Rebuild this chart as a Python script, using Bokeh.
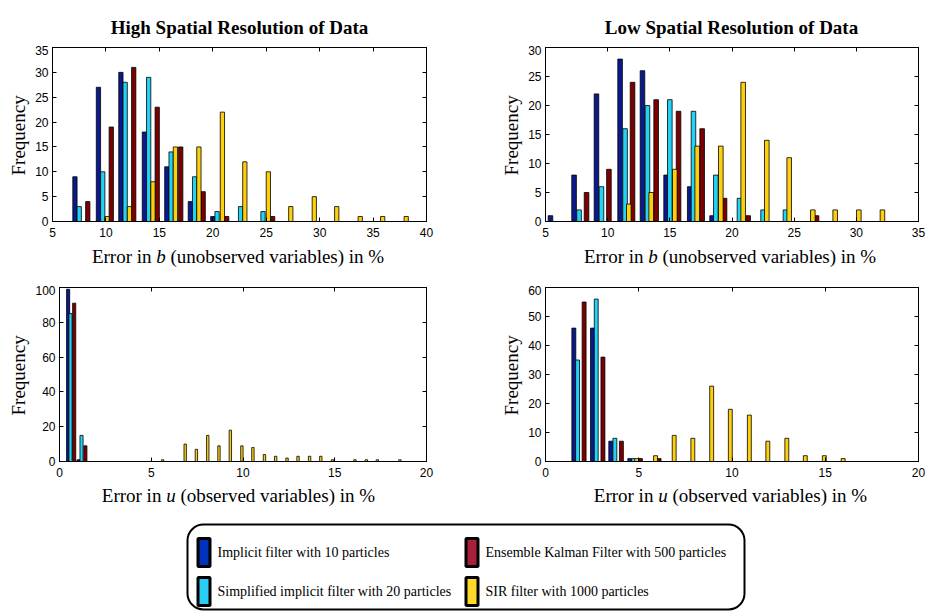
import math
from bokeh.plotting import figure
from bokeh.layouts import column, row
from bokeh.models import Range1d, FixedTicker, LinearAxis, BoxAnnotation
from bokeh.core.properties import value
from bokeh.embed import file_html
from bokeh.resources import INLINE

# ---------------- data ----------------
series_names = [
    "Implicit filter with 10 particles",
    "Simplified implicit filter with 20 particles",
    "Ensemble Kalman Filter with 500 particles",
    "SIR filter with 1000 particles",
]
panel_titles = ["High Spatial Resolution of Data", "Low Spatial Resolution of Data"]
y_label = "Frequency"
x_label_b = ("Error in", "b", "(unobserved variables) in %")
x_label_u = ("Error in", "u", "(observed variables) in %")

# High resolution, error in b
hb_implicit_x = [7.1, 9.3, 11.4, 13.6, 15.7, 17.9, 20.0]
hb_implicit_y = [9, 27, 30, 18, 11, 4, 1]
hb_simplified_x = [7.5, 9.7, 11.8, 14.0, 16.1, 18.3, 20.4, 22.6, 24.7]
hb_simplified_y = [3, 10, 28, 29, 14, 9, 2, 3, 2]
hb_enkf_x = [8.3, 10.5, 12.6, 14.8, 17.0, 19.1, 21.3, 25.6]
hb_enkf_y = [4, 19, 31, 23, 15, 6, 1, 1]
hb_sir_x = [10.1, 12.2, 14.4, 16.5, 18.7, 20.9, 23.0, 25.2, 27.3, 29.5, 31.6, 33.8, 35.9, 38.1]
hb_sir_y = [1, 3, 8, 15, 15, 22, 12, 10, 3, 5, 3, 1, 1, 1]

# Low resolution, error in b
lb_implicit_x = [5.4, 7.3, 9.1, 11.0, 12.8, 14.7, 16.6, 18.4]
lb_implicit_y = [1, 8, 22, 28, 26, 8, 6, 1]
lb_simplified_x = [7.7, 9.5, 11.4, 13.2, 15.0, 16.9, 18.7, 20.6, 22.5, 24.3]
lb_simplified_y = [2, 6, 16, 20, 21, 19, 8, 4, 2, 2]
lb_enkf_x = [8.3, 10.1, 12.0, 13.9, 15.7, 17.6, 19.4, 21.3, 26.8]
lb_enkf_y = [5, 9, 24, 21, 19, 16, 4, 1, 1]
lb_sir_x = [11.7, 13.5, 15.4, 17.2, 19.1, 20.9, 22.8, 24.6, 26.5, 28.3, 30.2, 32.1]
lb_sir_y = [3, 5, 9, 13, 13, 24, 14, 11, 2, 2, 2, 2]

# High resolution, error in u
hu_implicit_x = [0.47, 1.04]
hu_implicit_y = [99, 1]
hu_simplified_x = [0.6, 1.2]
hu_simplified_y = [85, 15]
hu_enkf_x = [0.8, 1.41]
hu_enkf_y = [91, 9]
hu_sir_x = [5.62, 6.85, 7.46, 8.08, 8.69, 9.31, 9.94, 10.54, 11.17, 11.78,
            12.4, 13.0, 13.63, 14.24, 14.88, 16.1, 16.72, 17.32, 18.55]
hu_sir_y = [1, 10, 7, 15, 9, 18, 9, 8, 4, 3, 2, 3, 3, 3, 1, 1, 1, 1, 1]

# Low resolution, error in u
lu_implicit_x = [1.52, 2.52, 3.5, 4.52]
lu_implicit_y = [46, 46, 7, 1]
lu_simplified_x = [1.72, 2.72, 3.72, 4.72]
lu_simplified_y = [35, 56, 8, 1]
lu_enkf_x = [2.07, 3.08, 4.07, 5.09, 6.09]
lu_enkf_y = [55, 36, 7, 1, 1]
lu_sir_x = [4.89, 5.9, 6.9, 7.9, 8.91, 9.91, 10.93, 11.92, 12.94, 13.93, 14.95, 15.96]
lu_sir_y = [1, 2, 9, 8, 26, 18, 16, 7, 8, 2, 2, 1]

# tick values
hb_xticks = [5, 10, 15, 20, 25, 30, 35, 40]
hb_yticks = [0, 5, 10, 15, 20, 25, 30, 35]
lb_xticks = [5, 10, 15, 20, 25, 30, 35]
lb_yticks = [0, 5, 10, 15, 20, 25, 30]
hu_xticks = [0, 5, 10, 15, 20]
hu_yticks = [0, 20, 40, 60, 80, 100]
lu_xticks = [0, 5, 10, 15, 20]
lu_yticks = [0, 10, 20, 30, 40, 50, 60]

# ---------------- styles ----------------
bar_colors = ["#0a1a8c", "#22d3f6", "#7d0000", "#ffcf0a"]
legend_colors = ["#0033bb", "#2acdf6", "#a62139", "#ffd82a"]
SERIF = "Liberation Serif"
SANS = "Liberation Sans"
TOTAL_W = 925
YL_W = 32          # width of the strip holding "Frequency"
P_LEFT_W = 461     # left panel figure width
P_RIGHT_W = 400    # right panel figure width
PANEL_H = 198
CENTERS = [239, 731]   # horizontal centres of the two plot frames


def strip(w, h):
    s = figure(width=w, height=h, x_range=Range1d(0, w), y_range=Range1d(h, 0),
               toolbar_location=None, output_backend="svg", x_axis_type=None,
               y_axis_type=None, min_border=0)
    s.outline_line_color = None
    s.xgrid.grid_line_color = None
    s.ygrid.grid_line_color = None
    return s


def make_panel(xs_list, ys_list, widths, xr, yr, xticks, yticks, width, height, bl, br):
    p = figure(width=width, height=height, x_range=Range1d(*xr), y_range=Range1d(*yr),
               toolbar_location=None, output_backend="svg",
               min_border_left=bl, min_border_right=br, min_border_top=2,
               min_border_bottom=22, background_fill_color="white",
               border_fill_color="white")
    p.xgrid.grid_line_color = None
    p.ygrid.grid_line_color = None
    p.outline_line_color = "black"
    p.outline_line_width = 1
    for xs, ys, w, c in zip(xs_list, ys_list, widths, bar_colors):
        p.vbar(x=xs, top=ys, bottom=0, width=w, fill_color=c,
               line_color="black", line_width=0.8)
    for ax, ticks, st in ((p.xaxis[0], xticks, 6), (p.yaxis[0], yticks, 4)):
        ax.ticker = FixedTicker(ticks=ticks)
        ax.major_tick_in = 4
        ax.major_tick_out = 0
        ax.minor_tick_line_color = None
        ax.axis_line_color = "black"
        ax.major_label_standoff = st
        ax.major_label_text_font = SANS
        ax.major_label_text_font_size = "12px"
        ax.major_label_text_color = "black"
    for loc, ticks in (("above", xticks), ("right", yticks)):
        ax = LinearAxis(ticker=FixedTicker(ticks=ticks), major_tick_in=4,
                        major_tick_out=0, minor_tick_line_color=None,
                        major_label_text_font_size="0px",
                        major_label_text_color=None, major_label_standoff=0,
                        axis_line_color="black")
        p.add_layout(ax, loc)
    return p


def ylabel_strip(h, cy):
    s = strip(YL_W, h)
    s.text(x=[18], y=[cy], text=[y_label], angle=math.pi / 2,
           text_font=value(SERIF), text_font_size="19px", text_align="center",
           text_baseline="middle", text_color="black")
    return s


def xlabel_strip(h, base_y, parts, offs):
    s = strip(TOTAL_W, h)
    aligns = ["right", "left", "left"]
    styles = ["normal", "italic", "normal"]
    for part, off, al, st in zip(parts, offs, aligns, styles):
        s.text(x=[c + off for c in CENTERS], y=[base_y, base_y], text=[part, part],
               text_font=value(SERIF), text_font_size="19px", text_font_style=st,
               text_align=al, text_baseline="alphabetic", text_color="black")
    return s


# title strip
title_s = strip(TOTAL_W, 45)
title_s.text(x=CENTERS, y=[27, 27], text=panel_titles, text_font=value(SERIF),
             text_font_style="bold", text_font_size="19px", text_align="center",
             text_baseline="alphabetic", text_color="black")

p1 = make_panel([hb_implicit_x, hb_simplified_x, hb_enkf_x, hb_sir_x],
                [hb_implicit_y, hb_simplified_y, hb_enkf_y, hb_sir_y],
                [0.4, 0.4, 0.4, 0.4], (5, 40), (0, 35), hb_xticks, hb_yticks,
                P_LEFT_W, PANEL_H, 20, 67)
p2 = make_panel([lb_implicit_x, lb_simplified_x, lb_enkf_x, lb_sir_x],
                [lb_implicit_y, lb_simplified_y, lb_enkf_y, lb_sir_y],
                [0.37, 0.37, 0.37, 0.37], (5, 35), (0, 30), lb_xticks, lb_yticks,
                P_RIGHT_W, PANEL_H, 19, 7)
p3 = make_panel([hu_implicit_x, hu_simplified_x, hu_enkf_x, hu_sir_x],
                [hu_implicit_y, hu_simplified_y, hu_enkf_y, hu_sir_y],
                [0.17, 0.17, 0.17, 0.13], (0, 20), (0, 100), hu_xticks, hu_yticks,
                P_LEFT_W, PANEL_H, 20, 67)
p4 = make_panel([lu_implicit_x, lu_simplified_x, lu_enkf_x, lu_sir_x],
                [lu_implicit_y, lu_simplified_y, lu_enkf_y, lu_sir_y],
                [0.21, 0.21, 0.21, 0.21], (0, 20), (0, 60), lu_xticks, lu_yticks,
                P_RIGHT_W, PANEL_H, 19, 7)

b_off = (-88.0, -83.2, -69.0)
u_off = (-78.1, -73.3, -59.1)
xl1 = xlabel_strip(42, 13, x_label_b, b_off)
xl2 = xlabel_strip(34, 12, x_label_u, u_off)

# ---------------- legend ----------------
LH = 95
lg = strip(TOTAL_W, LH)
lg.add_layout(BoxAnnotation(left=187, right=744, top=7, bottom=92, fill_color=None,
                            fill_alpha=0, line_color="black", line_alpha=1,
                            line_width=2, border_radius=16))
order = [0, 2, 1, 3]  # row-major: implicit, EnKF / simplified, SIR
col_px = [203.5, 471.5]
row_py = [35, 74]
pos = [(col_px[i % 2], row_py[i // 2]) for i in range(4)]
lg.rect(x=[pp[0] for pp in pos], y=[pp[1] for pp in pos], width=12, height=28,
        fill_color=[legend_colors[k] for k in order], line_color="black", line_width=3)
lg.text(x=[pp[0] + 13.5 for pp in pos], y=[pp[1] for pp in pos],
        text=[series_names[k] for k in order], text_font=value(SERIF),
        text_font_size="14px", text_baseline="middle", text_align="left",
        text_color="black")

layout = column(
    title_s,
    row(ylabel_strip(PANEL_H, 100), p1, ylabel_strip(PANEL_H, 100), p2),
    xl1,
    row(ylabel_strip(PANEL_H, 100), p3, ylabel_strip(PANEL_H, 100), p4),
    xl2,
    lg,
)
open("out.html", "w").write(file_html(layout, INLINE))
